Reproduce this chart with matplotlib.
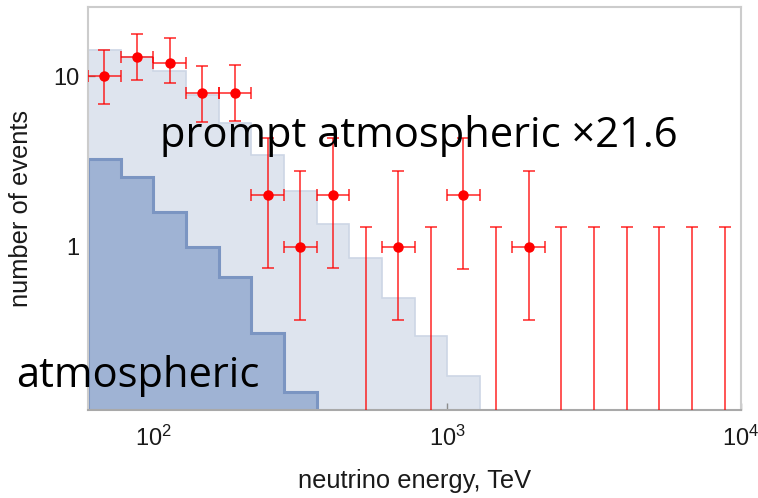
import numpy as np
import matplotlib
matplotlib.use('Agg')
import matplotlib.pyplot as plt

plt.rcParams['font.family'] = ['Liberation Sans', 'DejaVu Sans']
plt.rcParams['mathtext.default'] = 'regular'

# bin edges, TeV (9 bins per decade)
bin_edges = [59.95, 77.43, 100.0, 129.15, 166.81, 215.44, 278.26, 359.38, 464.16,
             599.48, 774.26, 1000.0, 1291.55, 1668.10, 2154.43, 2782.56, 3593.81,
             4641.59, 5994.84, 7742.64, 10000.0]

# model histograms
prompt_x21 = [14.2, 12.9, 10.7, 7.8, 5.35, 3.45, 2.12, 1.35, 0.855, 0.503, 0.301, 0.175]
atmos = [3.28, 2.56, 1.60, 1.00, 0.667, 0.311, 0.141]

# observed events per bin and their error bars (0 -> upper limit)
counts = [10, 13, 12, 8, 8, 2, 1, 2, 0, 1, 0, 2, 0, 1, 0, 0, 0, 0, 0, 0]
err_lo = [6.9, 9.5, 9.1, 5.4, 5.5, 0.75, 0.37, 0.75, 0, 0.37, 0, 0.74, 0, 0.37, 0, 0, 0, 0, 0, 0]
err_hi = [14.2, 17.6, 16.7, 11.5, 11.7, 4.35, 2.78, 4.35, 1.31, 2.78, 1.31, 4.35, 1.31, 2.78,
          1.31, 1.31, 1.31, 1.31, 1.31, 1.31]

edges = np.array(bin_edges)
cen = np.sqrt(edges[:-1] * edges[1:])
counts = np.array(counts, dtype=float)
err_lo = np.array(err_lo)
err_hi = np.array(err_hi)

fig = plt.figure(figsize=(7.58, 4.98), dpi=100)
ax = fig.add_axes([0.1161, 0.1767, 0.8615, 0.8092])

ax.stairs(prompt_x21, edges[:len(prompt_x21) + 1], baseline=1e-3, fill=True,
          facecolor='#dee4ee', edgecolor='none', zorder=1)
ax.stairs(prompt_x21, edges[:len(prompt_x21) + 1], baseline=1e-3,
          color='#cdd6e5', lw=1.2, zorder=1.1)
ax.stairs(atmos, edges[:len(atmos) + 1], baseline=1e-3, fill=True,
          facecolor='#9fb3d4', edgecolor='none', zorder=2)
ax.stairs(atmos, edges[:len(atmos) + 1], baseline=1e-3,
          color='#7b95c2', lw=2.2, zorder=2.1)

red = (1.0, 0.0, 0.0, 0.72)
det = counts > 0
xe = np.array([cen[det] - edges[:-1][det], edges[1:][det] - cen[det]])
ye = np.array([counts[det] - err_lo[det], err_hi[det] - counts[det]])
ax.errorbar(cen[det], counts[det], xerr=xe, yerr=ye, fmt='o', color='red',
            ms=6.5, ecolor=red, elinewidth=1.3, capsize=4.3, capthick=1.3, zorder=5)

ul = ~det
ax.errorbar(cen[ul], err_hi[ul], yerr=[err_hi[ul] - 1e-3, np.zeros(ul.sum())],
            fmt='none', ecolor=red, elinewidth=1.3, capsize=4.3, capthick=1.3, zorder=5)

ax.set_xscale('log')
ax.set_yscale('log')
ax.set_xlim(bin_edges[0], 1e4)
ax.set_ylim(0.11, 25.5)

ax.set_xticks([1e2, 1e3, 1e4])
ax.set_yticks([1, 10])
ax.set_yticklabels(['1', '10'])
ax.minorticks_off()
ax.tick_params(direction='in', length=5, width=1, color='#8c8c8c',
               labelsize=17, labelcolor='#1a1a1a')
ax.tick_params(axis='x', pad=11)
ax.tick_params(axis='y', pad=6)

for s in ax.spines.values():
    s.set_color('#cccccc')
    s.set_linewidth(1.5)
ax.spines['bottom'].set_color('#a9a9a9')

ax.set_xlabel('neutrino energy, TeV', fontsize=18.4, color='#1a1a1a')
ax.set_ylabel('number of events', fontsize=18.4, color='#1a1a1a')
ax.xaxis.set_label_coords(0.5, -0.146)
ax.yaxis.set_label_coords(-0.084, 0.5)

fig.text(160 / 758, 1 - 146.7 / 498, 'prompt atmospheric \u00d721.6', fontsize=30,
         family=['Open Sans', 'DejaVu Sans'], ha='left', va='baseline', zorder=10)
fig.text(16 / 758, 1 - 386.7 / 498, 'atmospheric', fontsize=30,
         family=['Open Sans', 'DejaVu Sans'], ha='left', va='baseline', zorder=10)

fig.savefig('out.png', dpi=100)
